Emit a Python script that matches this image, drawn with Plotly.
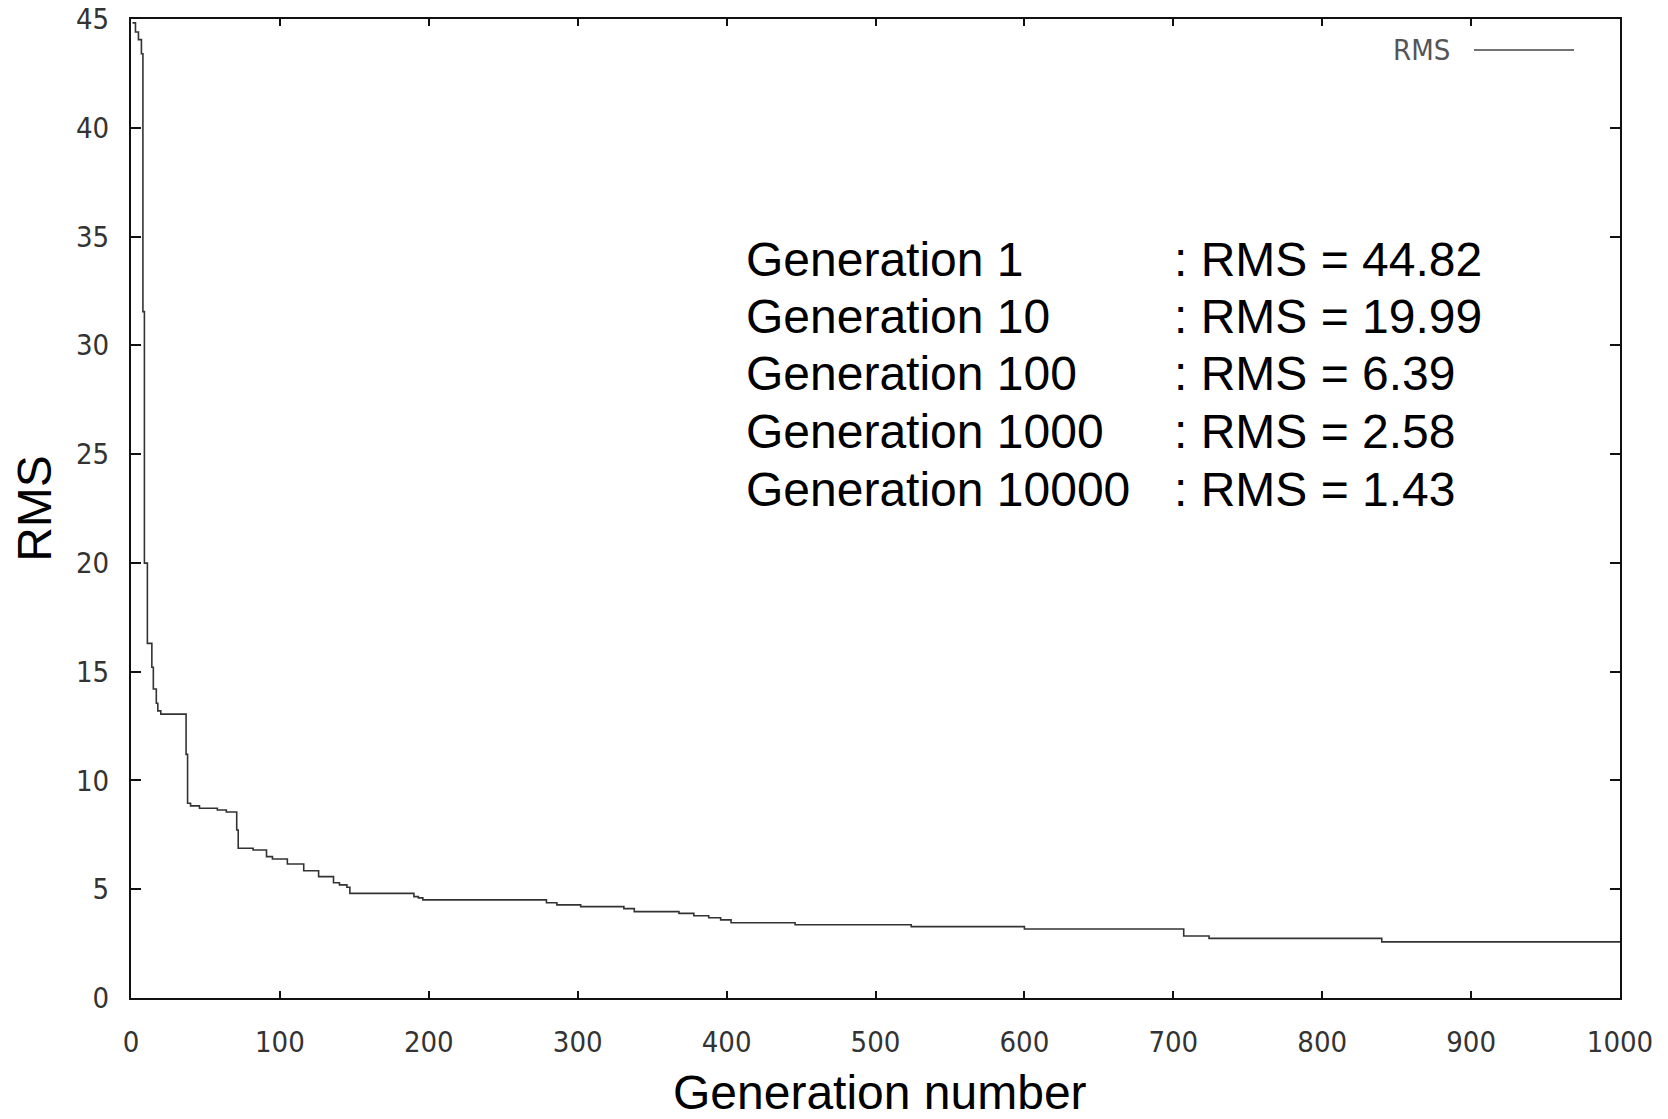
import plotly.graph_objects as go

# ---- data ----
generation = [1, 3, 5, 7, 8, 9, 11, 14, 15, 17, 18, 20, 37, 38, 40, 46, 58, 64, 71, 72,
              82, 91, 95, 105, 116, 126, 136, 140, 145, 147, 190, 193, 196, 279, 286,
              302, 331, 338, 368, 378, 388, 396, 403, 446, 524, 600, 707, 724, 840, 1000]
rms = [44.82, 44.4, 44.05, 43.4, 31.55, 19.99, 16.3, 15.2, 14.2, 13.55, 13.2, 13.05, 11.2,
       8.95, 8.83, 8.72, 8.64, 8.55, 7.72, 6.88, 6.8, 6.5, 6.39, 6.16, 5.85, 5.58, 5.3,
       5.2, 5.09, 4.81, 4.66, 4.6, 4.51, 4.38, 4.28, 4.2, 4.11, 3.97, 3.89, 3.78, 3.69,
       3.59, 3.46, 3.37, 3.28, 3.17, 2.85, 2.74, 2.58, 2.58]

x_ticks = [0, 100, 200, 300, 400, 500, 600, 700, 800, 900, 1000]
y_ticks = [0, 5, 10, 15, 20, 25, 30, 35, 40, 45]

x_title = "Generation number"
y_title = "RMS"

note_gen = ["Generation 1", "Generation 10", "Generation 100", "Generation 1000", "Generation 10000"]
note_rms = [": RMS = 44.82", ": RMS = 19.99", ": RMS = 6.39", ": RMS = 2.58", ": RMS = 1.43"]
note_y = [33.93, 31.32, 28.72, 26.04, 23.36]

# the page body adds an 8px offset, so the figure is a bit smaller than the window
OFF = 8
W, H = 1668 - 2 * OFF, 1119 - 2 * OFF
ML, MT = 131 - OFF, 19 - OFF
MR = W - (1620 - OFF)
MB = H - (998 - OFF)

tick_font = dict(family="Liberation Sans Narrow, Arial Narrow, DejaVu Sans Condensed, sans-serif",
                 size=29, color="#333333")
big_font = dict(family="Liberation Sans, Arial, sans-serif", size=48, color="#000000")

fig = go.Figure()
fig.add_trace(go.Scatter(x=generation, y=rms, mode="lines", line_shape="hv",
                         line=dict(color="#333333", width=1.6), name="RMS",
                         showlegend=False))

pw = W - ML - MR
ph = H - MT - MB

annotations = []
for txt, yv in zip(note_gen, note_y):
    annotations.append(dict(x=412, y=yv, xref="x", yref="y", text=txt, showarrow=False,
                            xanchor="left", yanchor="middle", font=big_font))
for txt, yv in zip(note_rms, note_y):
    annotations.append(dict(x=699, y=yv, xref="x", yref="y", text=txt, showarrow=False,
                            xanchor="left", yanchor="middle", font=big_font))

# x-axis title, placed below the tick labels
annotations.append(dict(x=(880 - 131) / pw, y=-(1092 - 998) / ph, xref="paper", yref="paper",
                        text=x_title, showarrow=False, xanchor="center", yanchor="middle",
                        font=big_font))

# key in the top-right corner: label, then line sample
key_y = 1 - (50 - 19) / ph
annotations.append(dict(x=(1452 - 131) / pw, y=key_y, xref="paper", yref="paper", text="RMS",
                        showarrow=False, xanchor="right", yanchor="middle",
                        font=dict(family=tick_font["family"], size=29, color="#555555")))
shapes = [dict(type="line", xref="paper", yref="paper",
               x0=(1474 - 131) / pw, x1=(1574 - 131) / pw, y0=key_y, y1=key_y,
               line=dict(color="#444444", width=1.6))]

fig.update_layout(
    width=W, height=H,
    margin=dict(l=ML, r=MR, t=MT, b=MB, pad=0, autoexpand=False),
    paper_bgcolor="#ffffff", plot_bgcolor="#ffffff",
    annotations=annotations, shapes=shapes,
    xaxis=dict(range=[0, 1000], tickvals=x_ticks, ticktext=[str(v) for v in x_ticks],
               ticks="inside", ticklen=7, tickwidth=1.5, tickcolor="#111111",
               showline=True, linecolor="#111111", linewidth=2, mirror="ticks",
               showgrid=False, zeroline=False, tickfont=tick_font, ticklabelstandoff=17,
               ticklabeloverflow="allow", automargin=False),
    yaxis=dict(range=[0, 45], tickvals=y_ticks, ticktext=[str(v) for v in y_ticks],
               ticks="inside", ticklen=10, tickwidth=1.5, tickcolor="#111111",
               showline=True, linecolor="#111111", linewidth=2, mirror="ticks",
               showgrid=False, zeroline=False, tickfont=tick_font, ticklabelstandoff=14,
               ticklabeloverflow="allow", automargin=False,
               title=dict(text=y_title, font=big_font, standoff=25)),
)

fig.write_html("out.html")
